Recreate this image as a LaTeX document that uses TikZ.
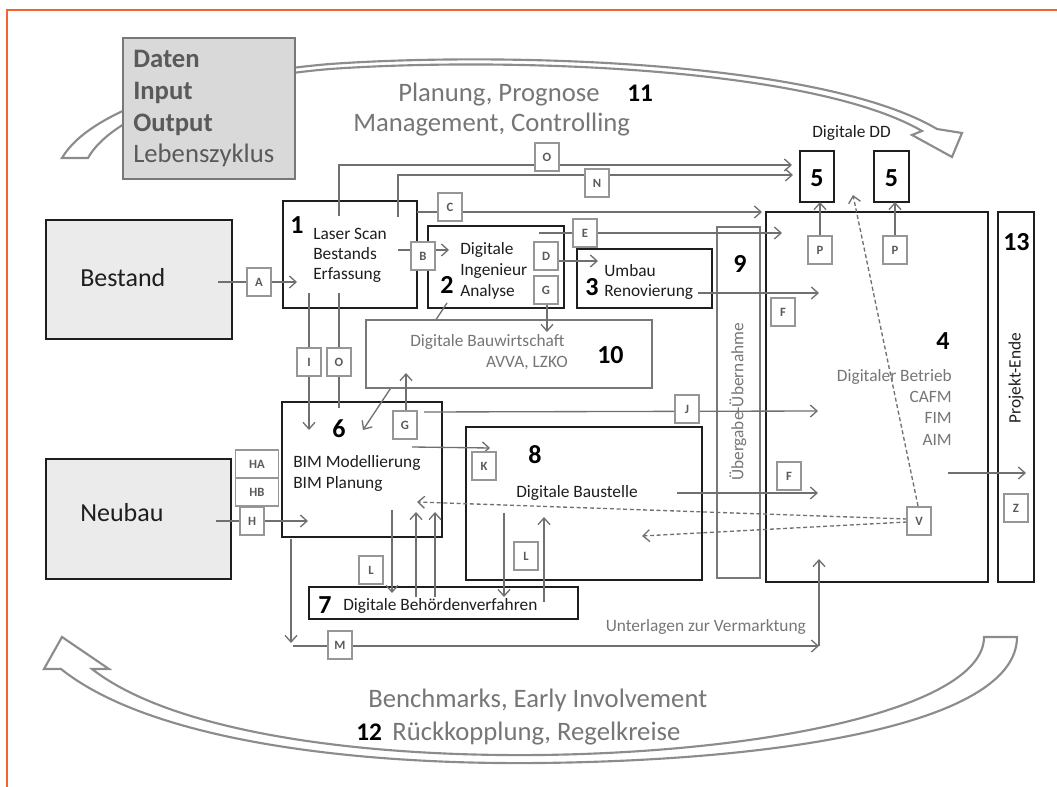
\documentclass[tikz,border=0pt]{standalone}
\usepackage{fontspec}
\setmainfont{Carlito}
\usetikzlibrary{arrows.meta,fit}
\definecolor{orng}{RGB}{242,102,45}
\definecolor{ln}{RGB}{112,112,112}
\definecolor{gtxt}{RGB}{118,118,118}
\definecolor{dark}{RGB}{30,30,30}
\definecolor{lbl}{RGB}{90,90,90}
\definecolor{lblb}{RGB}{150,150,150}
\definecolor{boxgray}{RGB}{217,217,217}
\definecolor{boxlight}{RGB}{235,235,235}
\definecolor{arcc}{RGB}{140,140,140}
\definecolor{gbord}{RGB}{120,120,120}
\newcommand{\myfs}[1]{\fontsize{#1}{#1}\selectfont}
\begin{document}
\begin{tikzpicture}[x=0.75pt,y=-0.75pt,
 box/.style={draw=dark,line width=2.2pt,fill=white,inner sep=0pt},
 gbox/.style={draw=gbord,line width=1.6pt,inner sep=0pt},
 lab/.style={draw=lblb,line width=0.8pt,fill=white,minimum width=18pt,minimum height=21pt,inner sep=0pt,font=\myfs{9.5}\bfseries,text=lbl},
 labw/.style={lab,minimum width=32pt},
 con/.style={draw=ln,line width=1pt,-{Straight Barb[length=5pt,width=9pt]}},
 lin/.style={draw=ln,line width=1pt},
 dsh/.style={con,dash pattern=on 3pt off 2pt},
 txt/.style={anchor=base west,inner sep=0pt,font=\myfs{13},text=dark},
 gtx/.style={txt,text=gtxt},
 num/.style={anchor=base west,inner sep=0pt,font=\myfs{19.5}\bfseries,text=black},
 big/.style={anchor=base west,inner sep=0pt,font=\myfs{20},text=gtxt},
 bigarr/.style={draw=arcc,line width=1.6pt,fill=white,line join=miter},
]
\useasboundingbox (0,0) rectangle (1057,787);
% frame
\draw[orng,line width=2.2pt] (7,787) -- (7,10) -- (1057,10);

% big curved arrows
\draw[bigarr] (62,158) .. controls (90,110) and (200,75) .. (330,64)
  .. controls (500,52) and (820,60) .. (937,129) -- (962,133) -- (952,157) -- (912,135) -- (922,131)
  .. controls (810,66) and (500,57) .. (330,69) .. controls (200,80) and (110,118) .. (88,158) -- cycle;
\draw[bigarr] (62,637) -- (109,669) -- (92,669) .. controls (170,730) and (350,757) .. (540,755)
  .. controls (780,752) and (984,705) .. (984,637) -- (1017,637)
  .. controls (1017,720) and (800,760) .. (540,763) .. controls (350,765) and (150,740) .. (61,669) -- (44,669) -- cycle;

% Daten box
\node[draw=gbord,line width=1pt,fill=boxgray,inner sep=0pt,fit={(123,38) (295,179)}] (dat) {};
\node[anchor=base west,inner sep=0pt,font=\myfs{20}\bfseries,text=lbl] (dat1) at (133,68) {Daten};
\node[anchor=base west,inner sep=0pt,font=\myfs{20}\bfseries,text=lbl] (dat2) at (133,100) {Input};
\node[anchor=base west,inner sep=0pt,font=\myfs{20}\bfseries,text=lbl] (dat3) at (133,132) {Output};
\node[anchor=base west,inner sep=0pt,font=\myfs{20},text=lbl] (dat4) at (133,163) {Lebenszyklus};

% cycle texts
\node[big] (t11a) at (398,102) {Planung, Prognose};
\node[big] (t11b) at (353,132) {Management, Controlling};
\node[num,font=\myfs{19}\bfseries] (n11) at (627,102) {11};
\node[big] (t12a) at (368,707) {Benchmarks, Early Involvement};
\node[num,font=\myfs{19}\bfseries] (n12) at (356,740) {12};
\node[big] (t12b) at (392,740) {Rückkopplung, Regelkreise};

% main boxes
\node[draw=dark,line width=1.8pt,fill=boxlight,inner sep=0pt,fit={(46,220) (232,339)}] (bst) {};
\node[draw=dark,line width=1.8pt,fill=boxlight,inner sep=0pt,fit={(46,459) (231,579)}] (neu) {};
\node[box,fit={(283,201) (417,308)}] (b1) {};
\node[box,fit={(428,226) (564,308)}] (b2) {};
\node[box,fit={(577,249) (712,308)}] (b3) {};
\node[box,fit={(282,402) (442,537)}] (b6) {};
\node[box,fit={(466,427) (702,580)}] (b8) {};
\node[box,line width=1.8pt,fit={(309,587) (578,619)}] (b7) {};
\node[box,fit={(766,212) (988,582)}] (b4) {};
\node[box,line width=2pt,fit={(998,212) (1034,582)}] (b13) {};
\node[box,line width=2pt,fit={(800,151) (834,202)}] (b5a) {};
\node[box,line width=2pt,fit={(874,151) (909,202)}] (b5b) {};
\node[gbox,fit={(717,227) (760,578)}] (b9) {};

% line 2 -> 6 behind box 10
\coordinate (c26s) at (447,303);
\coordinate (c26e) at (363,430);
\draw[con] (c26s) -- (c26e);
\node[gbox,fill=white,fit={(366,320) (652,388)}] (b10) {};

% coordinates for connectors
\coordinate (pA1) at (218,282); \coordinate (pA2) at (297,282);
\coordinate (pB1) at (398,250); \coordinate (pB2) at (449,250);
\coordinate (pC1) at (417,212); \coordinate (pC2) at (762,212);
\coordinate (pE1) at (539,233); \coordinate (pE2) at (782,233);
\coordinate (pD1) at (558,261); \coordinate (pD2) at (598,261);
\coordinate (pG1) at (547,303); \coordinate (pG2) at (547,332);
\coordinate (p34a) at (698,293); \coordinate (p34b) at (819,293);
\coordinate (pO1) at (339,216); \coordinate (pO2) at (792,165);
\coordinate (pN1) at (398,217); \coordinate (pN2) at (793,175);
\coordinate (pI1) at (309,293); \coordinate (pI2) at (309,430);
\coordinate (pO3) at (339,293); \coordinate (pO4) at (339,408);
\coordinate (pG3) at (406,411); \coordinate (pG4) at (406,373);
\coordinate (pJ1) at (424,412); \coordinate (pJ2) at (818,411);
\coordinate (pK1) at (412,447); \coordinate (pK2) at (490,448);
\coordinate (pH1) at (216,521); \coordinate (pH2) at (308,521);
\coordinate (pVa) at (907,519); \coordinate (pV6) at (417,502);
\coordinate (pVb) at (907,522); \coordinate (pV8) at (642,536);
\coordinate (pVc) at (918,506); \coordinate (pV5) at (853,195);
\coordinate (pP1) at (820,236); \coordinate (pP1e) at (820,202);
\coordinate (pP2) at (895,236); \coordinate (pP2e) at (895,202);
\coordinate (pF1) at (677,493); \coordinate (pF2) at (818,493);
\coordinate (pZ1) at (948,473); \coordinate (pZ2) at (1026,473);
\coordinate (pL1) at (392,510); \coordinate (pL2) at (392,593);
\coordinate (pL3) at (416,597); \coordinate (pL4) at (416,512);
\coordinate (pL5) at (435,597); \coordinate (pL6) at (435,512);
\coordinate (pL7) at (504,513); \coordinate (pL8) at (504,597);
\coordinate (pL9) at (544,602); \coordinate (pL10) at (544,517);
\coordinate (pM1) at (291,539); \coordinate (pM2) at (291,643);
\coordinate (pM3) at (293,646); \coordinate (pM4) at (819,646);
\coordinate (pM5) at (819,559);

% connectors
\draw[con] (pA1) -- (pA2);
\draw[con] (pB1) -- (pB2);
\draw[con] (pC1) -- (pC2);
\draw[con] (pE1) -- (pE2);
\draw[con] (pD1) -- (pD2);
\draw[con] (pG1) -- (pG2);
\draw[con] (p34a) -- (p34b);
\draw[con] (pO1) |- (pO2);
\draw[con] (pN1) |- (pN2);
\draw[con] (pI1) -- (pI2);
\draw[lin] (pO3) -- (pO4);
\draw[con] (pG3) -- (pG4);
\draw[con] (pJ1) -- (pJ2);
\draw[con] (pK1) -- (pK2);
\draw[con] (pH1) -- (pH2);
\draw[dsh] (pVa) -- (pV6);
\draw[dsh] (pVb) -- (pV8);
\draw[dsh] (pVc) -- (pV5);
\draw[con] (pP1) -- (pP1e);
\draw[con] (pP2) -- (pP2e);
\draw[con] (pF1) -- (pF2);
\draw[con] (pZ1) -- (pZ2);
\draw[con] (pL1) -- (pL2);
\draw[con] (pL3) -- (pL4);
\draw[con] (pL5) -- (pL6);
\draw[con] (pL7) -- (pL8);
\draw[con] (pL9) -- (pL10);
\draw[con] (pM1) -- (pM2);
\draw[con] (pM3) -- (pM4);
\draw[con] (pM4) -- (pM5);

% labels
\node[lab] (lA) at (259,282) {A};
\node[lab] (lB) at (423,256) {B};
\node[lab] (lC) at (450,207) {C};
\node[lab] (lE) at (585,233) {E};
\node[lab] (lD) at (546,256) {D};
\node[lab] (lG1) at (546,290) {G};
\node[lab] (lN) at (597,183) {N};
\node[lab] (lO1) at (547,157) {O};
\node[lab] (lI) at (309,362) {I};
\node[lab] (lO2) at (339,362) {O};
\node[lab] (lG2) at (405,425) {G};
\node[lab] (lK) at (484,466) {K};
\node[lab] (lJ) at (687,409) {J};
\node[lab] (lF1) at (783,312) {F};
\node[lab] (lF2) at (789,476) {F};
\node[lab] (lP1) at (820,250) {P};
\node[lab] (lP2) at (895,250) {P};
\node[lab] (lV) at (919,521) {V};
\node[lab] (lZ) at (1016,508) {Z};
\node[labw] (lHA) at (257,464) {HA};
\node[labw] (lHB) at (257,492) {HB};
\node[lab] (lH) at (252,521) {H};
\node[lab] (lL1) at (371,570) {L};
\node[lab] (lL2) at (526,556) {L};
\node[lab] (lM) at (340,645) {M};

% texts
\node[txt,font=\myfs{19.5}] (tbst) at (80,287) {Bestand};
\node[txt,font=\myfs{19.5}] (tneu) at (80,522) {Neubau};
\node[num] (n1) at (290,234) {1};
\node[txt] (t1a) at (313,240) {Laser Scan};
\node[txt] (t1b) at (313,260) {Bestands};
\node[txt] (t1c) at (313,280) {Erfassung};
\node[num] (n2) at (440,294) {2};
\node[txt] (t2a) at (460,255) {Digitale};
\node[txt] (t2b) at (460,276) {Ingenieur};
\node[txt] (t2c) at (460,297) {Analyse};
\node[num] (n3) at (585,296) {3};
\node[txt] (t3a) at (604,277) {Umbau};
\node[txt] (t3b) at (604,297) {Renovierung};
\node[gtx] (t10a) at (410,347) {Digitale Bauwirtschaft};
\node[gtx,anchor=base east] (t10b) at (568,368) {AVVA, LZKO};
\node[num] (n10) at (597,364) {10};
\node[num] (n6) at (332,438) {6};
\node[txt] (t6a) at (293,468) {BIM Modellierung};
\node[txt] (t6b) at (293,489) {BIM Planung};
\node[num] (n8) at (528,464) {8};
\node[txt] (t8) at (516,498) {Digitale Baustelle};
\node[num] (n7) at (318,614) {7};
\node[txt] (t7) at (343,610) {Digitale Behördenverfahren};
\node[gtx,anchor=base east] (tunt) at (806,632) {Unterlagen zur Vermarktung};
\node[num] (n9) at (733,273) {9};
\node[gtx,anchor=center,rotate=90] (t9) at (738,402) {Übergabe-Übernahme};
\node[num] (n4) at (936,350) {4};
\node[gtx,anchor=base east] (t4a) at (952,382) {Digitaler Betrieb};
\node[gtx,anchor=base east] (t4b) at (952,403) {CAFM};
\node[gtx,anchor=base east] (t4c) at (952,424) {FIM};
\node[gtx,anchor=base east] (t4d) at (952,446) {AIM};
\node[num] (n13) at (1003,251) {13};
\node[txt,anchor=center,rotate=90] (t13) at (1016,378) {Projekt-Ende};
\node[num,anchor=center] (n5a) at (817,178) {5};
\node[num,anchor=center] (n5b) at (891.5,178) {5};
\node[txt] (tdd) at (812,138) {Digitale DD};
\end{tikzpicture}
\end{document}
